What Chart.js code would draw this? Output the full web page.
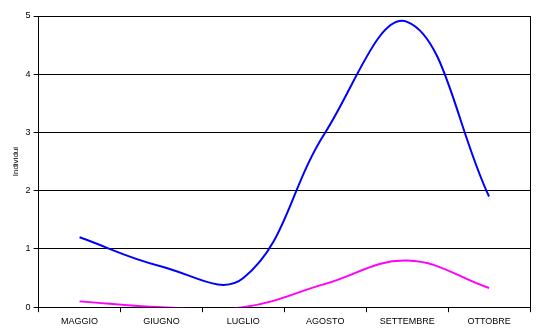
<!DOCTYPE html>
<html>
<head>
<meta charset="utf-8">
<script src="https://cdn.jsdelivr.net/npm/chart.js@4"></script>
<style>
  html, body { margin: 0; padding: 0; background: #fff; }
  #wrap { width: 539px; height: 336px; }
</style>
</head>
<body>
<div id="wrap"><canvas id="myChart" width="539" height="336"></canvas></div>
<script>
// months on the x axis
const months = ["MAGGIO", "GIUGNO", "LUGLIO", "AGOSTO", "SETTEMBRE", "OTTOBRE"];

// two series
const blueSeries = [1.2, 0.7, 0.5, 3.0, 4.9, 1.9];
const pinkSeries = [0.1, 0.0, 0.0, 0.4, 0.8, 0.33];

const yTicks = [0, 1, 2, 3, 4, 5];

const tickFont = { family: "'Liberation Sans', Arial, sans-serif", size: 9 };

const ctx = document.getElementById('myChart').getContext('2d');
const chart = new Chart(ctx, {
  type: "line",
  data: {
    labels: months,
    datasets: [
      {
        label: "blu",
        data: blueSeries,
        borderColor: "#0000ff",
        borderWidth: 2,
        pointRadius: 0,
        tension: 0.4,
        fill: false,
      },
      {
        label: "magenta",
        data: pinkSeries,
        borderColor: "#ff00ff",
        borderWidth: 2,
        pointRadius: 0,
        tension: 0.4,
        fill: false,
      },
    ],
  },
  options: {
    responsive: false,
    animation: false,
    events: [],
    layout: { padding: { left: 9, right: 1, top: 16, bottom: 5 } },
    elements: { line: { capBezierPoints: false } },
    plugins: {
      legend: { display: false },
      tooltip: { enabled: false },
    },
    scales: {
      x: {
        offset: true,
        grid: {
          offset: true,
          drawOnChartArea: false,
          color: "#000",
          tickLength: 5,
        },
        border: { color: "#000", width: 1 },
        ticks: { color: "#000", font: tickFont, maxRotation: 0, padding: 4 },
      },
      y: {
        min: 0,
        max: 5,
        afterBuildTicks: (axis) => { axis.ticks = yTicks.map(v => ({ value: v })); },
        grid: { color: "#000", lineWidth: 1, tickLength: 5 },
        border: { color: "#000", width: 1 },
        ticks: { color: "#000", font: tickFont, padding: 3 },
        title: {
          display: true,
          text: "Individui",
          color: "#000",
          font: { family: "'Liberation Sans', Arial, sans-serif", size: 8 },
          padding: 2,
        },
      },
      y2: {
        position: "right",
        min: 0,
        max: 5,
        grid: { display: false },
        border: { display: true, color: "#000", width: 1 },
        ticks: { display: false },
      },
    },
  },
});
</script>
</body>
</html>
